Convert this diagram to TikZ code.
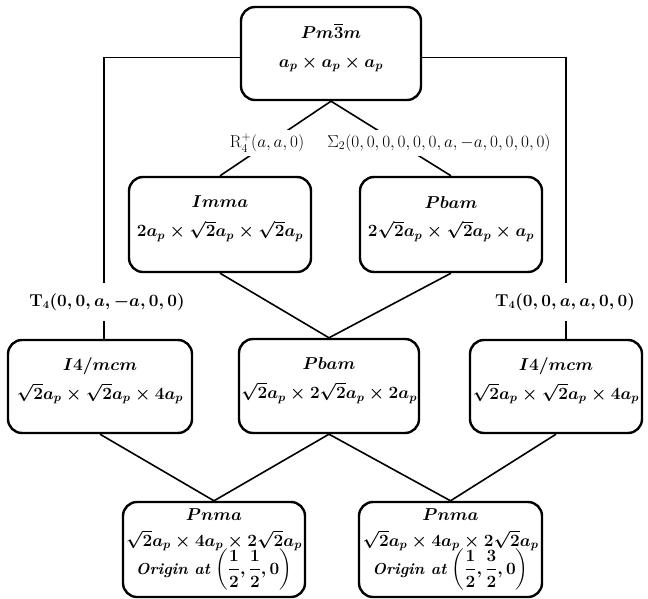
\documentclass[tikz,border=0pt]{standalone}
\usepackage{amsmath}
\usepackage{tikz}
\usetikzlibrary{positioning}

\tikzset{
  sgbox/.style={draw, line width=2.4bp, rounded corners=14bp, align=center,
    inner sep=0pt, text depth=16bp, font=\boldmath\fontsize{18}{29}\selectfont},
  pnmabox/.style={draw, line width=2.4bp, rounded corners=14bp, align=center,
    inner sep=0pt, minimum width=182bp, minimum height=95bp,
    font=\boldmath\fontsize{17}{23}\selectfont},
  link/.style={line width=1.6bp},
  irlabel/.style={fill=white, inner xsep=2bp, inner ysep=4bp, font=\fontsize{17}{20}\selectfont},
  tlabel/.style={fill=white, inner xsep=2bp, inner ysep=10bp, font=\boldmath\fontsize{16}{20}\selectfont}
}

\begin{document}
\begin{tikzpicture}[x=1bp, y=-1bp]
  \useasboundingbox (0,0) rectangle (648,599);
  % parent
  \node[sgbox, minimum width=180bp, minimum height=93bp] (cubic) at (331,53.5)
    {$Pm\overline{3}m$\\ $a_p\times a_p\times a_p$};
  % first row
  \node[sgbox, minimum width=182bp, minimum height=95bp] (imma) at (220,224.5)
    {$Imma$\\ $2a_p\times\sqrt{2}a_p\times\sqrt{2}a_p$};
  \node[sgbox, minimum width=182bp, minimum height=95bp] (pbamtop) at (451,224.5)
    {$Pbam$\\ $2\sqrt{2}a_p\times\sqrt{2}a_p\times a_p$};
  % second row
  \node[sgbox, minimum width=184bp, minimum height=93bp] (tetleft) at (100,386.5)
    {$I4/mcm$\\ $\sqrt{2}a_p\times\sqrt{2}a_p\times 4a_p$};
  \node[sgbox, minimum width=180bp, minimum height=94bp] (pbammid) at (329,386)
    {$Pbam$\\ $\sqrt{2}a_p\times 2\sqrt{2}a_p\times 2a_p$};
  \node[sgbox, minimum width=172bp, minimum height=93bp] (tetright) at (556,386.5)
    {$I4/mcm$\\ $\sqrt{2}a_p\times\sqrt{2}a_p\times 4a_p$};
  % bottom row
  \node[pnmabox] (pnmaleft) at (214,549.5)
    {$Pnma$\\[3bp] $\sqrt{2}a_p\times 4a_p\times 2\sqrt{2}a_p$\\[-3bp]
     {\fontsize{16}{18}\selectfont\textbf{\textit{Origin at}} $\left(\dfrac{1}{2},\dfrac{1}{2},0\right)$}};
  \node[pnmabox, minimum width=183bp] (pnmaright) at (450.5,549.5)
    {$Pnma$\\[3bp] $\sqrt{2}a_p\times 4a_p\times 2\sqrt{2}a_p$\\[-3bp]
     {\fontsize{16}{18}\selectfont\textbf{\textit{Origin at}} $\left(\dfrac{1}{2},\dfrac{3}{2},0\right)$}};

  % connectors
  \draw[link] (cubic.south) -- (imma.north);
  \draw[link] (cubic.south) -- (pbamtop.north);
  \draw[link] ([yshift=-4bp]cubic.west) -| ([xshift=4bp]tetleft.north);
  \draw[link] ([yshift=-4bp]cubic.east) -| ([xshift=10bp]tetright.north);
  \draw[link] (imma.south) -- (pbammid.north);
  \draw[link] (pbamtop.south) -- (pbammid.north);
  \draw[link] (tetleft.south) -- (pnmaleft.north);
  \draw[link] (pbammid.south) -- (pnmaleft.north);
  \draw[link] (pbammid.south) -- (pnmaright.north);
  \draw[link] (tetright.south) -- (pnmaright.north);

  % irrep labels
  \node[irlabel] (rlab) at (267,143) {$\mathrm{R}_4^+(a,a,0)$};
  \node[irlabel] (slab) at (439,143) {$\Sigma_2(0,0,0,0,0,0,a,-a,0,0,0,0)$};
  \node[tlabel] (tlableft) at (107,302) {$\mathbf{T}_4(0,0,a,-a,0,0)$};
  \node[tlabel] (tlabright) at (565,302) {$\mathbf{T}_4(0,0,a,a,0,0)$};
\end{tikzpicture}
\end{document}
